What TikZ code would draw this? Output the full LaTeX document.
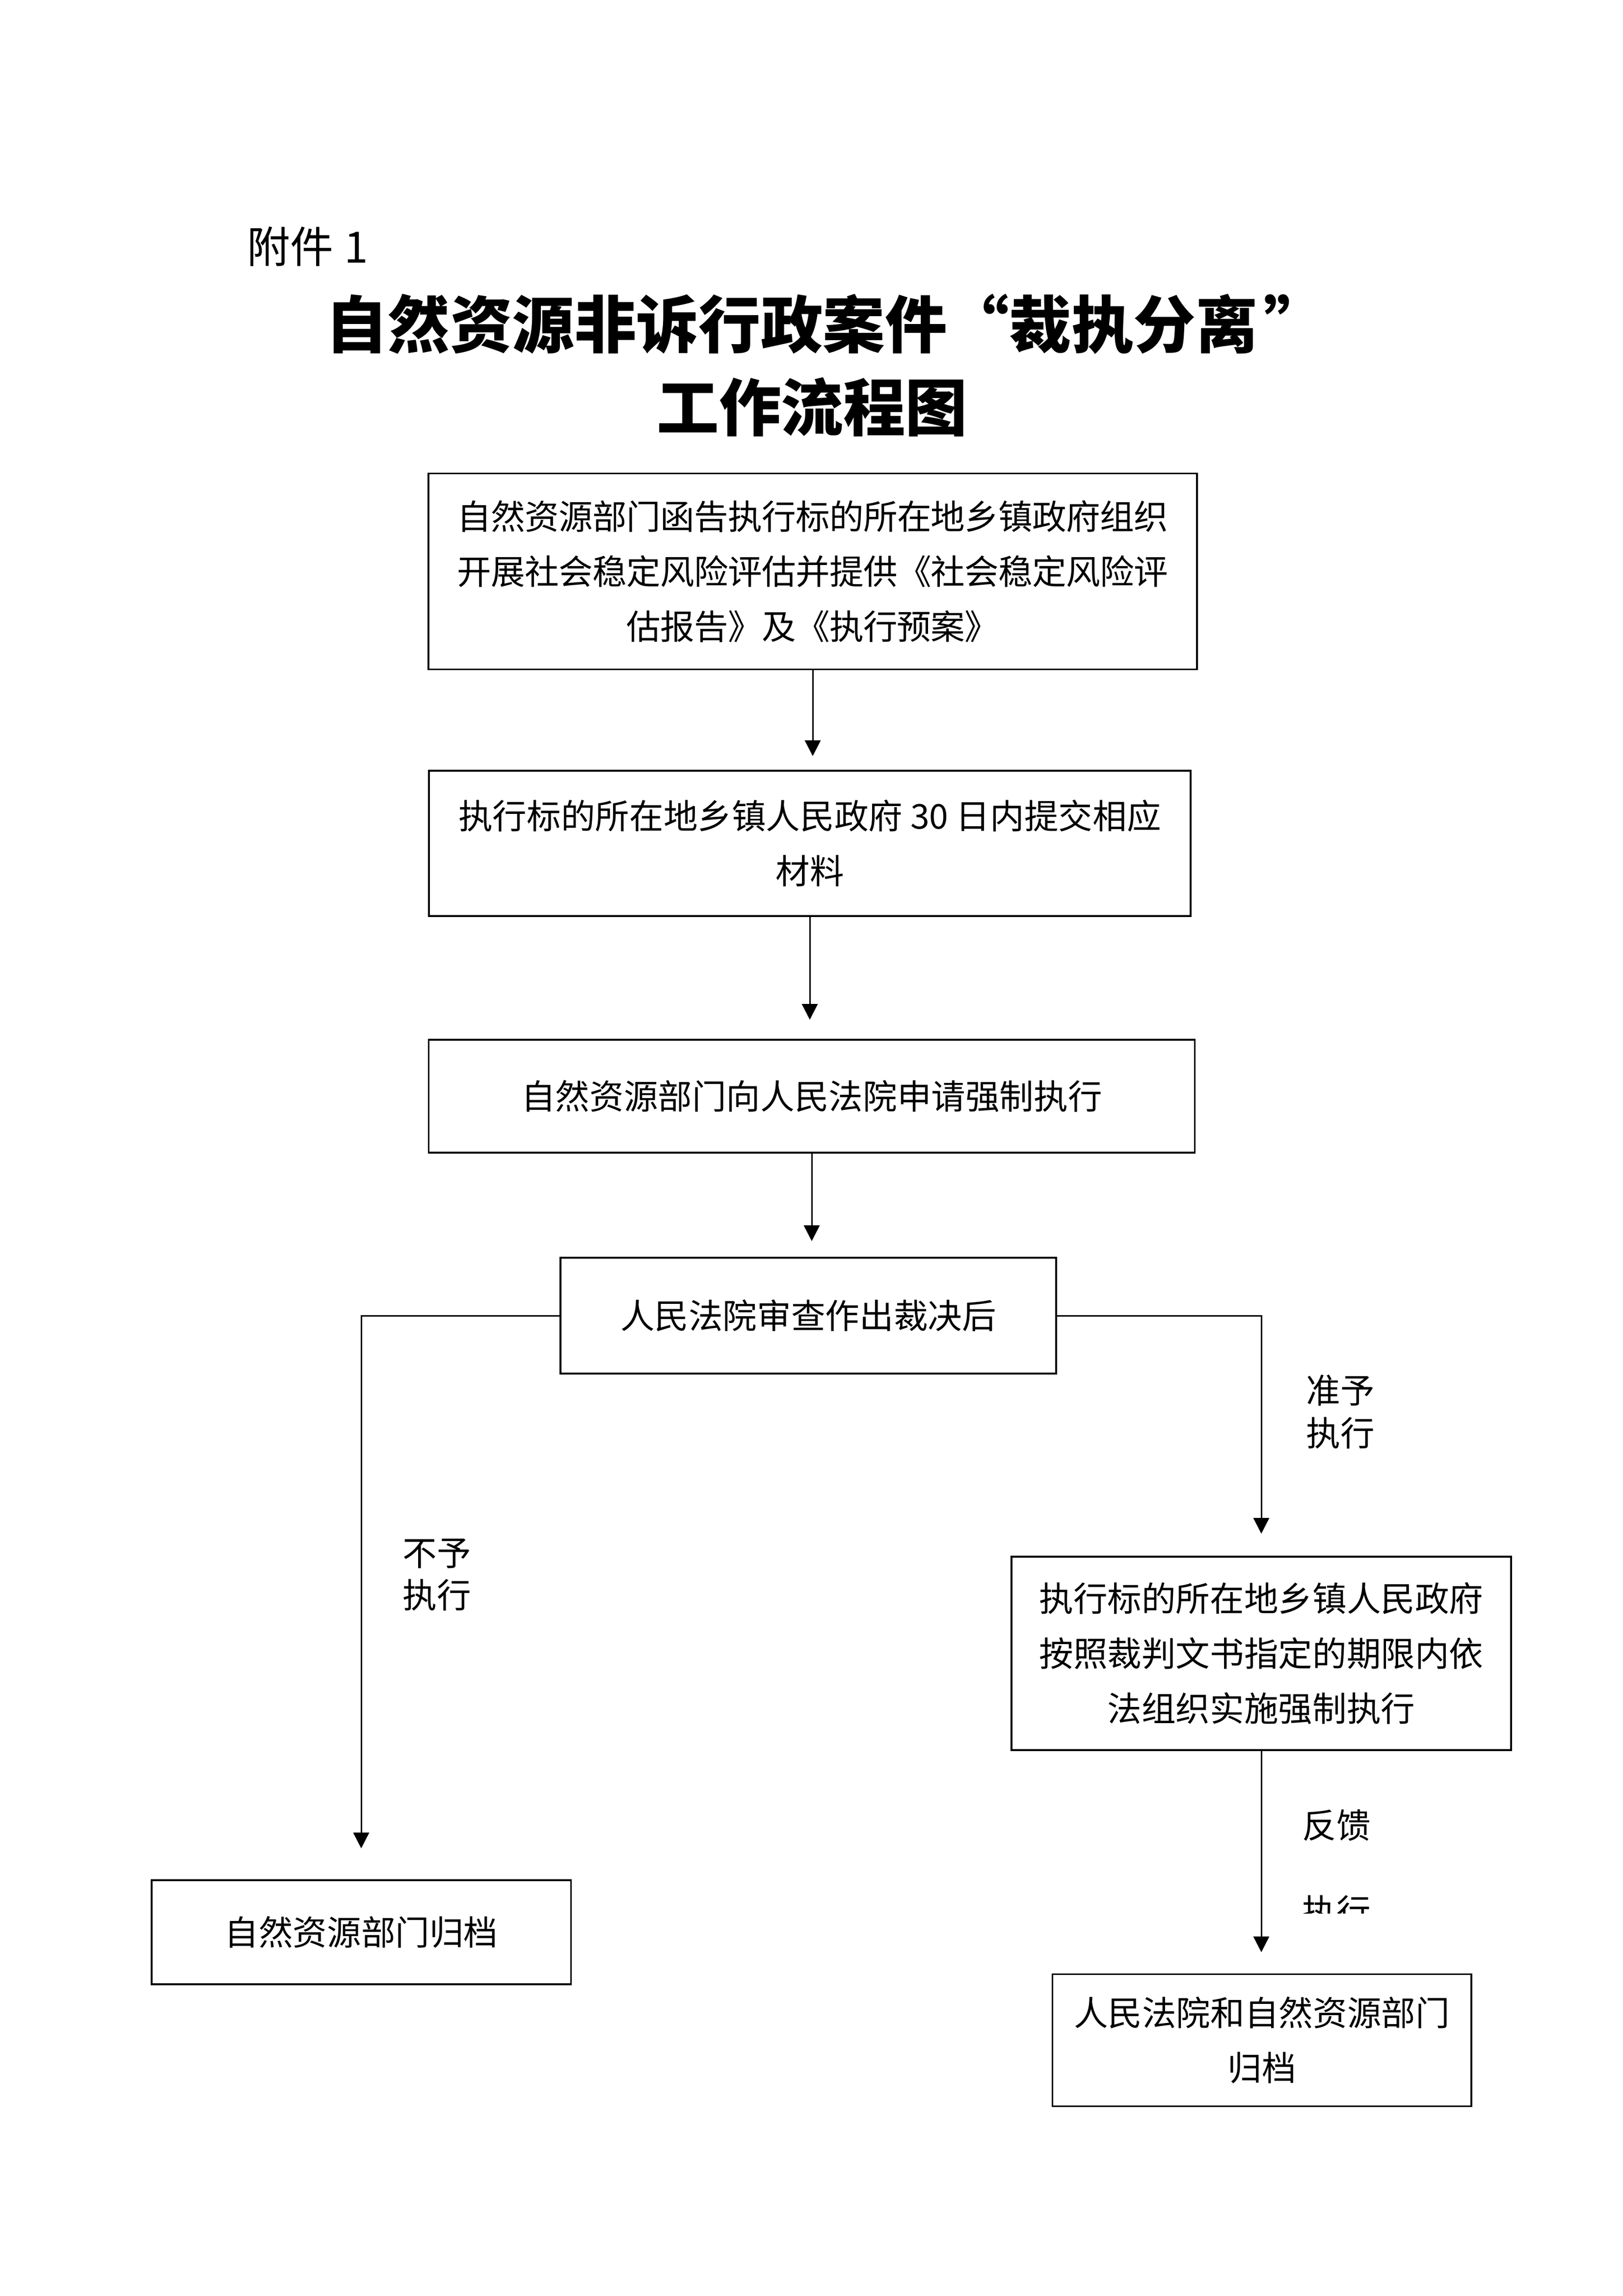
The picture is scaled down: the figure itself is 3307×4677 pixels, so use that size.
\documentclass[tikz,border=0pt]{standalone}
\usepackage{fontspec}
\setmainfont{Noto Sans CJK SC}
\usetikzlibrary{arrows.meta}
\newcommand{\bodyfs}{\fontsize{19.8pt}{31.8pt}\selectfont}
\newcommand{\lblfs}{\fontsize{19.8pt}{24.6pt}\selectfont}
\begin{document}
\begin{tikzpicture}[x=0.01cm,y=-0.01cm,
  box/.style={draw,line width=1pt,rectangle,align=center,inner sep=0pt,font=\bodyfs},
  arr/.style={line width=0.85pt,-{Triangle[width=0.32cm,length=0.32cm]}},
  lbl/.style={font=\lblfs,align=left,inner sep=0pt}]
\useasboundingbox (0,0) rectangle (3307,4677);
% headings
\node[font=\fontsize{25pt}{30pt}\selectfont,anchor=west,inner sep=0pt] (fj) at (503,502) {附件\hspace{0.25em}1};
\node[font=\fontsize{36pt}{50pt}\selectfont\bfseries,inner sep=0pt] (t1) at (1683,660) {自然资源非诉行政案件“裁执分离\hspace{0.1em}”};
\node[font=\fontsize{36pt}{50pt}\selectfont\bfseries,inner sep=0pt] (t2) at (1655,829) {工作流程图};
% boxes
\node[box,minimum width=15.65cm,minimum height=3.99cm,font=\bodyfs\addfontfeature{LetterSpace=-1}] (b1) at (1656,1164)
  {自然资源部门函告执行标的所在地乡镇政府组织\\开展社会稳定风险评估并提供《社会稳定风险评\\估报告》及《执行预案》};
\node[box,minimum width=15.51cm,minimum height=2.96cm] (b2) at (1650,1718)
  {执行标的所在地乡镇人民政府 30 日内提交相应\\材料};
\node[box,minimum width=15.60cm,minimum height=2.30cm] (b3) at (1654,2233)
  {自然资源部门向人民法院申请强制执行};
\node[box,minimum width=10.09cm,minimum height=2.36cm] (b4) at (1647,2680)
  {人民法院审查作出裁决后};
\node[box,minimum width=8.54cm,minimum height=2.12cm] (b5) at (736,3936)
  {自然资源部门归档};
\node[box,minimum width=10.17cm,minimum height=3.94cm] (b6) at (2570,3368)
  {执行标的所在地乡镇人民政府\\按照裁判文书指定的期限内依\\法组织实施强制执行};
\node[box,minimum width=8.53cm,minimum height=2.69cm] (b7) at (2571,4156)
  {人民法院和自然资源部门\\归档};
% labels
\node[lbl] (l1) at (890,3208) {不予\\执行};
\node[lbl] (l2) at (2731,2876) {准予\\执行};
\node[lbl] (l3) at (2723,3718) {反馈};
\begin{scope}
  \clip (2600,3800) rectangle (2900,3897);
  \node[lbl] (l4) at (2723,3893) {执行};
\end{scope}
% connectors
\draw[arr,shorten >=0.28cm] (b1.south) -- (b1.south |- b2.north);
\draw[arr,shorten >=0.39cm] (b2.south) -- (b2.south |- b3.north);
\draw[arr,shorten >=0.32cm] (b3.south) -- (b3.south |- b4.north);
\draw[arr,shorten >=0.63cm] (b4.west) -| (b5.north);
\draw[arr,shorten >=0.45cm] (b4.east) -| (b6.north);
\draw[arr,shorten >=0.43cm] (b6.south) -- (b6.south |- b7.north);
\end{tikzpicture}
\end{document}
